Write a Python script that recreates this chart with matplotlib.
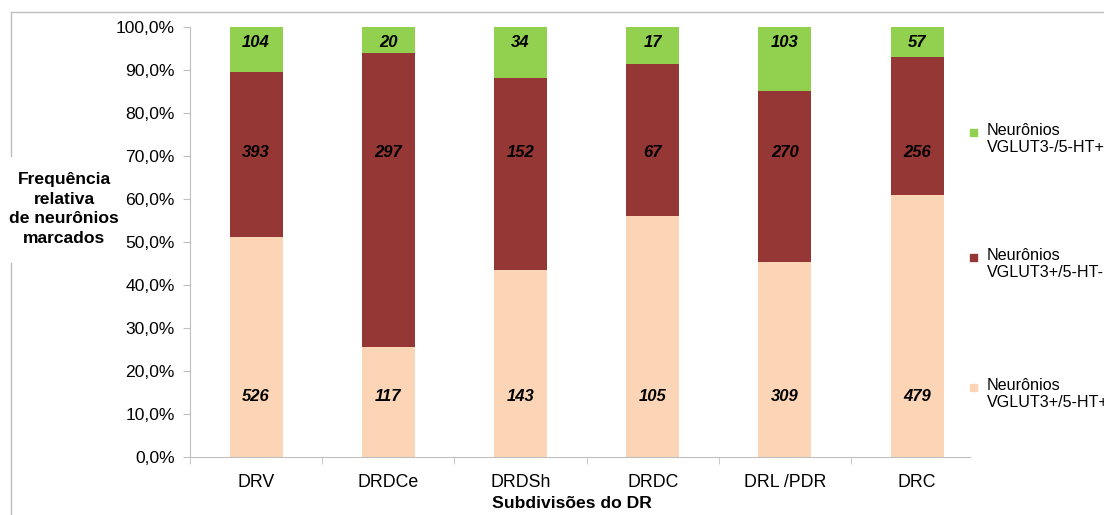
import numpy as np
import matplotlib.pyplot as plt
from matplotlib.lines import Line2D
from matplotlib.patches import Rectangle
from matplotlib.ticker import FuncFormatter

plt.rcParams['font.family'] = ['Liberation Sans', 'DejaVu Sans']

# Dados: subdivisões, contagens (rótulos) e frequências relativas (%)
categorias = ["DRV", "DRDCe", "DRDSh", "DRDC", "DRL /PDR", "DRC"]
n_pos_pos = [526, 117, 143, 105, 309, 479]   # VGLUT3+/5-HT+ (base)
n_pos_neg = [393, 297, 152, 67, 270, 256]    # VGLUT3+/5-HT- (meio)
n_neg_pos = [104, 20, 34, 17, 103, 57]       # VGLUT3-/5-HT+ (topo)
pct_pos_pos = [51.2, 25.6, 43.5, 56.0, 45.4, 60.9]
pct_pos_neg = [38.3, 68.4, 44.7, 35.4, 39.7, 32.1]
pct_neg_pos = [10.5, 6.0, 11.8, 8.6, 14.9, 7.0]
legendas = ["Neurônios\nVGLUT3-/5-HT+", "Neurônios\nVGLUT3+/5-HT-", "Neurônios\nVGLUT3+/5-HT+"]

cor_base = "#FBD5B5"
cor_meio = "#953735"
cor_topo = "#92D050"
cinza = "#BFBFBF"

pa = np.array(pct_pos_pos)
pb = np.array(pct_pos_neg)
pc = np.array(pct_neg_pos)

fig = plt.figure(figsize=(11.04, 5.15), dpi=100)
ax = fig.add_axes([190 / 1104, 1 - 457 / 515, 780 / 1104, 430 / 515])

x = np.arange(len(categorias))
w = 0.40
ax.bar(x, pa, w, color=cor_base)
ax.bar(x, pb, w, bottom=pa, color=cor_meio)
ax.bar(x, pc, w, bottom=pa + pb, color=cor_topo)

# rótulos (posições fixas como no original)
for i in range(len(categorias)):
    for val, yy in [(n_pos_pos[i], 14.0), (n_pos_neg[i], 70.7), (n_neg_pos[i], 96.5)]:
        ax.text(x[i], yy, str(val), ha='center', va='center', fontsize=12,
                fontweight='bold', fontstyle='italic', color='black')

ax.set_xlim(-0.5, 5.4)
ax.set_ylim(0, 100)
ax.set_yticks(np.arange(0, 101, 10))
ax.yaxis.set_major_formatter(FuncFormatter(lambda v, p: f"{v:.1f}%".replace('.', ',')))
ax.set_xticks(x)
ax.set_xticklabels(categorias)
ax.set_xticks(np.arange(-0.5, 5.5, 1), minor=True)
ax.tick_params(axis='x', which='major', length=0, pad=12, labelsize=12.8)
ax.tick_params(axis='x', which='minor', length=5, color=cinza)
ax.tick_params(axis='y', length=5, color=cinza, labelsize=12.6, pad=6)

for s in ['top', 'right']:
    ax.spines[s].set_visible(False)
for s in ['left', 'bottom']:
    ax.spines[s].set_color(cinza)

fig.text(572 / 1104, 1 - 503 / 515, "Subdivisões do DR", ha='center', va='center',
         fontsize=12.6, fontweight='bold')
fig.text(64 / 1104, 1 - 209 / 515, "Frequência\nrelativa\nde neurônios\nmarcados",
         ha='center', va='center', fontsize=12.6, fontweight='bold', linespacing=1.4)

# legenda manual (cortada na borda direita como no original)
cores_leg = [cor_topo, cor_meio, cor_base]
ys_leg = [139, 264, 394]
for cor, txt, yy in zip(cores_leg, legendas, ys_leg):
    fig.patches.append(Rectangle((970 / 1104, 1 - (yy - 3) / 515), 7 / 1104, 7 / 515,
                                 transform=fig.transFigure, color=cor))
    fig.text(987 / 1104, 1 - yy / 515, txt, ha='left', va='center', fontsize=11.6, linespacing=1.15)

# moldura da área do gráfico
fig.lines.append(Line2D([11 / 1104, 1], [1 - 12 / 515, 1 - 12 / 515], transform=fig.transFigure, color=cinza, lw=1))
fig.lines.append(Line2D([11 / 1104, 11 / 1104], [1 - 12 / 515, 1 - 156 / 515], transform=fig.transFigure, color=cinza, lw=1))
fig.lines.append(Line2D([11 / 1104, 11 / 1104], [1 - 263 / 515, 0], transform=fig.transFigure, color=cinza, lw=1))

fig.savefig("out.png", dpi=100)
